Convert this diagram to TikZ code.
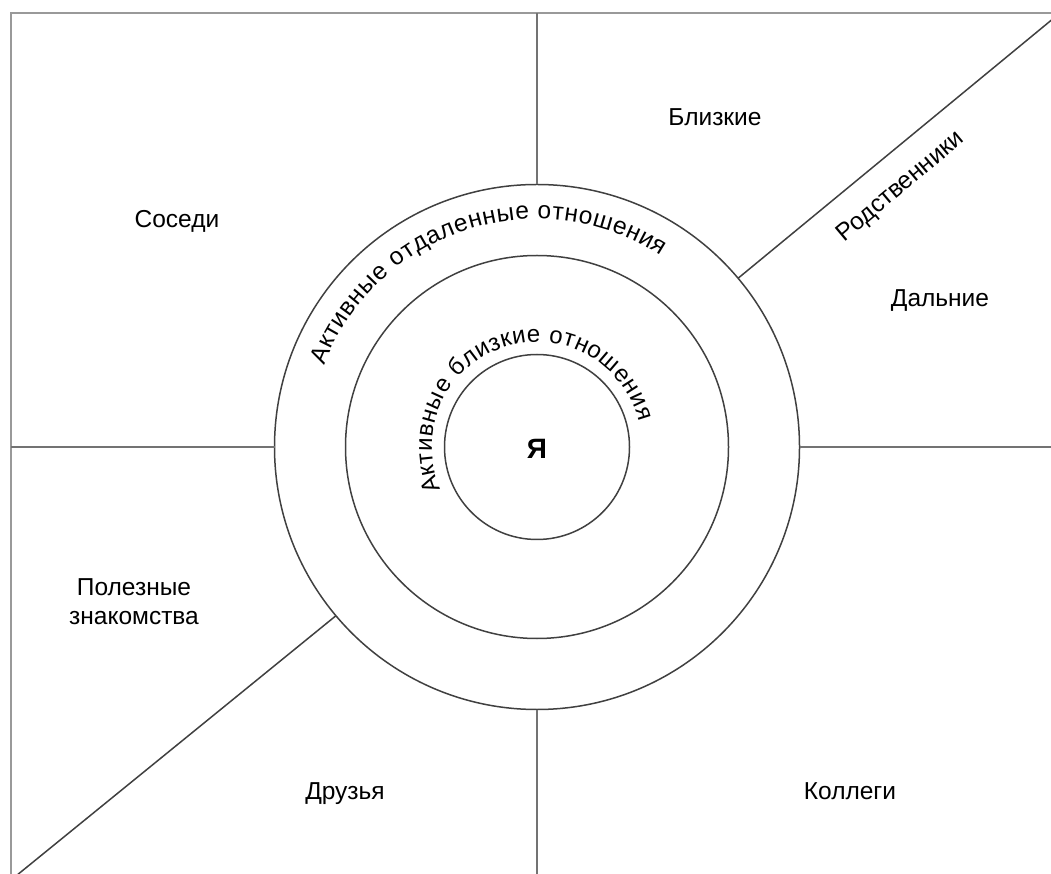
\documentclass[tikz,border=0pt]{standalone}
\usepackage{fontspec}
\setmainfont{Liberation Sans}
\usepackage{tikz}
\usetikzlibrary{decorations.text}

\newcommand{\lblfont}{\fontsize{24.5}{29}\selectfont}
\newcommand{\arcfont}{\fontsize{24.5}{29}\selectfont}
\newcommand{\innerarcfont}{\fontsize{24}{28}\selectfont}

\begin{document}
\begin{tikzpicture}[x=1pt, y=1pt,
        ring/.style={draw=black!75, line width=1.5pt, circle, inner sep=0pt, outer sep=0pt},
        sepline/.style={draw=black!55, line width=1.6pt},
        diagline/.style={draw=black!75, line width=1.5pt},
        lbl/.style={font=\lblfont, align=center, inner sep=0pt}]
    \useasboundingbox (0,0) rectangle (1051,873);
    \clip (0,0) rectangle (1051,873);
    % frame
    \draw[draw=black!40, line width=2.2pt] (11,-8) rectangle (1062,860);

    % rings
    \coordinate (c) at (537,426);
    \node[ring, minimum size=525pt] (outer) at (c) {};
    \node[ring, minimum size=383pt] (middle) at (c) {};
    \node[ring, minimum size=185pt] (inner) at (c) {};
    \node[font=\fontsize{28}{32}\selectfont\bfseries] (me) at (537,424) {Я};

    % separators
    \coordinate (top) at (537,860);
    \coordinate (bottom) at (537,-8);
    \coordinate (left) at (11,426);
    \coordinate (right) at (1062,426);
    \coordinate (ne) at (1060,860);
    \coordinate (sw) at (11,-7);
    \draw[sepline] (outer.north) -- (top);
    \draw[sepline] (outer.south) -- (bottom);
    \draw[sepline] (outer.west) -- (left);
    \draw[sepline] (outer.east) -- (right);
    \draw[diagline] (outer.40) -- (ne);
    \draw[diagline] (outer.220) -- (sw);

    % texts on the rings
    \path[decorate, decoration={text along path, text align=fit to path,
        text={|\arcfont|Активные отдаленные отношения}}]
        (c) ++(159:228) arc[start angle=159, end angle=57, radius=228];
    \path[decorate, decoration={text along path, text align=fit to path,
        text={|\innerarcfont|Активные близкие отношения}}]
        (c) ++(204:105) arc[start angle=204, end angle=14, radius=105];

    % sectors
    \node[lbl, anchor=base] (neighbours) at (177,645) {Соседи};
    \node[lbl, anchor=base] (close) at (715,747) {Близкие};
    \node[lbl, anchor=base] (distant) at (940,566) {Дальние};
    \node[lbl, rotate=40] (relatives) at (901,686) {Родственники};
    \node[lbl] (useful) at (134,271) {Полезные\\знакомства};
    \node[lbl, anchor=base] (friends) at (345,74) {Друзья};
    \node[lbl, anchor=base] (colleagues) at (850,74) {Коллеги};
\end{tikzpicture}
\end{document}
